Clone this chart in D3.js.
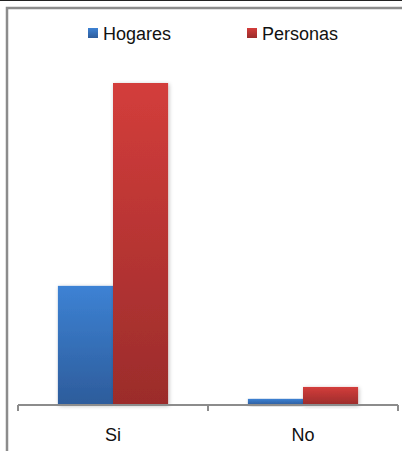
<!DOCTYPE html>
<html><head><meta charset="utf-8">
<script src="https://cdn.jsdelivr.net/npm/d3@7"></script>
<style>html,body{margin:0;padding:0;background:#fff;}svg{display:block;}</style>
</head><body>
<script>
const categories = ["Si", "No"];
const seriesNames = ["Hogares", "Personas"];
const hogares = [37.0, 1.9];
const personas = [100.0, 5.6];
const seriesValues = [hogares, personas];

const W = 402, H = 451;
const svg = d3.select("body").append("svg").attr("width", W).attr("height", H);
const defs = svg.append("defs");
const colors = [["#3d82d4", "#2d5c9b"], ["#d33d3b", "#9b2c2b"]];
colors.forEach((c, i) => {
  const g = defs.append("linearGradient").attr("id", "g" + i).attr("x1", 0).attr("y1", 0).attr("x2", 0).attr("y2", 1);
  g.append("stop").attr("offset", "0%").attr("stop-color", c[0]);
  g.append("stop").attr("offset", "100%").attr("stop-color", c[1]);
});
const f = defs.append("filter").attr("id", "sh").attr("x", "-20%").attr("y", "-20%").attr("width", "140%").attr("height", "140%");
f.append("feGaussianBlur").attr("in", "SourceAlpha").attr("stdDeviation", 2);
f.append("feOffset").attr("dx", 1).attr("dy", 1).attr("result", "b");
f.append("feComponentTransfer").append("feFuncA").attr("type", "linear").attr("slope", 0.25);
const m = f.append("feMerge"); m.append("feMergeNode"); m.append("feMergeNode").attr("in", "SourceGraphic");

svg.append("line").attr("x1", 0).attr("x2", W).attr("y1", 0.5).attr("y2", 0.5).attr("stroke", "#222").attr("stroke-width", 1);
svg.append("path").attr("d", `M7,${H} V8 H${W}`).attr("fill", "none").attr("stroke", "#8c8c8c").attr("stroke-width", 2.5);

const x0 = d3.scaleBand().domain(categories).range([18, 398]).paddingInner(0.42).paddingOuter(0.21);
const x1 = d3.scaleBand().domain(seriesNames).range([0, x0.bandwidth()]);
const y = d3.scaleLinear().domain([0, 100]).range([405, 83]);

categories.forEach((c, ci) => {
  seriesNames.forEach((s, si) => {
    const v = seriesValues[si][ci];
    svg.append("rect").attr("x", x0(c) + x1(s)).attr("y", y(v))
      .attr("width", x1.bandwidth()).attr("height", y(0) - y(v))
      .attr("fill", `url(#g${si})`).attr("filter", "url(#sh)");
  });
});

const axis = svg.append("g").attr("transform", `translate(0,${y(0)})`);
axis.append("line").attr("x1", 18).attr("x2", 398).attr("stroke", "#8c8c8c").attr("stroke-width", 2);
const tickXs = [18, (x0("Si") + x0.bandwidth() + x0("No")) / 2, 398];
tickXs.forEach(t => axis.append("line").attr("x1", t).attr("x2", t).attr("y1", 0).attr("y2", 6).attr("stroke", "#8c8c8c").attr("stroke-width", 2));
categories.forEach(c => {
  svg.append("text").attr("x", x0(c) + x0.bandwidth() / 2).attr("y", 441).attr("text-anchor", "middle")
    .attr("font-family", "Liberation Sans, Arial, sans-serif").attr("font-size", 18).attr("fill", "#111").text(c);
});

const legendX = [88, 247];
seriesNames.forEach((s, i) => {
  svg.append("rect").attr("x", legendX[i]).attr("y", 28).attr("width", 10).attr("height", 10).attr("fill", `url(#g${i})`);
  svg.append("text").attr("x", legendX[i] + 15).attr("y", 40).attr("font-family", "Liberation Sans, Arial, sans-serif")
    .attr("font-size", 18).attr("fill", "#111").text(s);
});
</script>
</body></html>
